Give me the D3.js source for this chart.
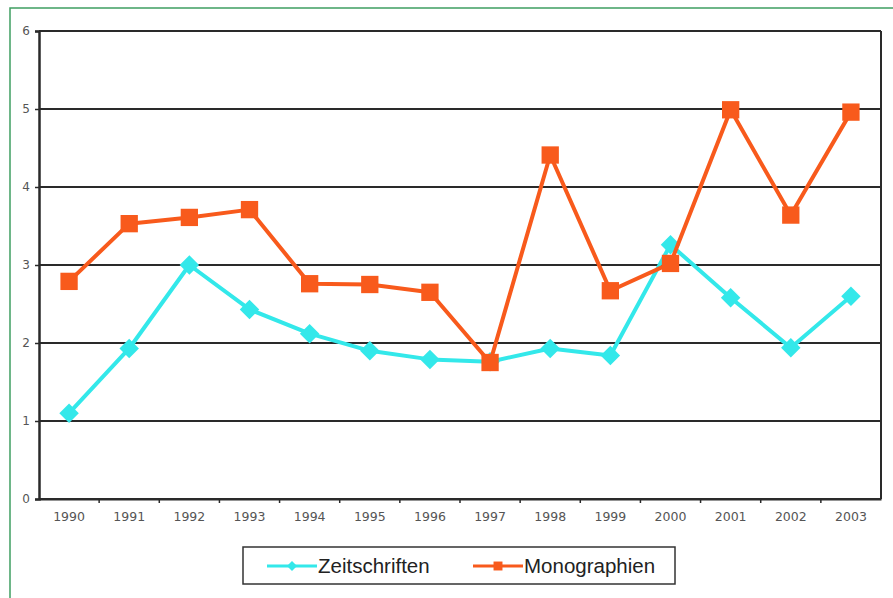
<!DOCTYPE html>
<html>
<head>
<meta charset="utf-8">
<script src="https://cdn.jsdelivr.net/npm/d3@7"></script>
<style>
  body { margin: 0; background: #fff; }
  svg { display: block; font-family: "Liberation Sans", Arial, sans-serif; }
</style>
</head>
<body>
<svg id="chart" width="893" height="598"></svg>
<script>
const years = ["1990", "1991", "1992", "1993", "1994", "1995", "1996", "1997", "1998", "1999", "2000", "2001", "2002", "2003"];
const zeitschriften = [1.1, 1.93, 3.0, 2.43, 2.12, 1.9, 1.79, 1.76, 1.93, 1.84, 3.26, 2.58, 1.94, 2.6];
const monographien = [2.79, 3.53, 3.61, 3.71, 2.76, 2.75, 2.65, 1.75, 4.41, 2.67, 3.02, 4.99, 3.64, 4.96];
const yTicks = [0, 1, 2, 3, 4, 5, 6];

const series = [
  { name: "Zeitschriften", values: zeitschriften, color: "#33e8ea", marker: "diamond" },
  { name: "Monographien", values: monographien, color: "#f85a1c", marker: "square" }
];

const svg = d3.select("#chart");
const margin = { top: 31, right: 12, bottom: 99, left: 39 };
const width = 893, height = 598;

// green frame around the picture
svg.append("rect")
  .attr("x", 10).attr("y", 8)
  .attr("width", 900).attr("height", 620)
  .attr("fill", "none")
  .attr("stroke", "#3f9e62")
  .attr("stroke-width", 1.5);

const x = d3.scaleBand()
  .domain(years)
  .range([margin.left, width - margin.right])
  .padding(0);

const y = d3.scaleLinear()
  .domain([0, 6])
  .range([height - margin.bottom, margin.top]);

// grid lines
svg.append("g")
  .selectAll("line")
  .data(yTicks)
  .join("line")
  .attr("x1", margin.left).attr("x2", width - margin.right)
  .attr("y1", d => y(d)).attr("y2", d => y(d))
  .attr("stroke", "#2a2a2a")
  .attr("stroke-width", 2);

// right border
svg.append("line")
  .attr("x1", width - margin.right).attr("x2", width - margin.right)
  .attr("y1", y(6)).attr("y2", y(0))
  .attr("stroke", "#2a2a2a").attr("stroke-width", 2);

const tickFont = "DejaVu Sans";

// y axis
const yAxis = svg.append("g")
  .attr("transform", `translate(${margin.left},0)`)
  .call(d3.axisLeft(y).tickValues(yTicks).tickFormat(d3.format("d")).tickSize(4).tickPadding(5));
yAxis.select(".domain").attr("stroke", "#2a2a2a").attr("stroke-width", 2.5);
yAxis.selectAll(".tick line").attr("stroke", "#2a2a2a").attr("stroke-width", 1.5);
yAxis.selectAll("text").attr("font-family", tickFont).attr("font-size", 12).attr("fill", "#555");

// x axis, ticks at category boundaries
const xAxis = svg.append("g")
  .attr("transform", `translate(0,${y(0)})`)
  .call(d3.axisBottom(x).tickSize(0).tickPadding(13));
xAxis.select(".domain").attr("stroke", "#2a2a2a").attr("stroke-width", 2);
xAxis.selectAll("text").attr("font-family", tickFont).attr("font-size", 12.5).attr("fill", "#555");
xAxis.selectAll(".sep")
  .data(years.slice(1))
  .join("line")
  .attr("class", "sep")
  .attr("x1", d => x(d)).attr("x2", d => x(d))
  .attr("y1", 0).attr("y2", 4)
  .attr("stroke", "#2a2a2a").attr("stroke-width", 1.5);

const cx = i => x(years[i]) + x.bandwidth() / 2;

const line = d3.line()
  .x((d, i) => cx(i))
  .y(d => y(d));

// markers: square, and a square turned 45deg for the diamond
const markerPath = (m, size) => d3.symbol().type(d3.symbolSquare).size(size)();
const markerRot = m => m === "diamond" ? 45 : 0;
const markerSize = m => m === "square" ? 300 : 190;

series.forEach(s => {
  const g = svg.append("g");
  g.append("path")
    .datum(s.values)
    .attr("d", line)
    .attr("fill", "none")
    .attr("stroke", s.color)
    .attr("stroke-width", 4)
    .attr("stroke-linejoin", "round");
  g.selectAll("path.pt")
    .data(s.values)
    .join("path")
    .attr("class", "pt")
    .attr("transform", (d, i) => `translate(${cx(i)},${y(d)}) rotate(${markerRot(s.marker)})`)
    .attr("d", markerPath(s.marker, markerSize(s.marker)))
    .attr("fill", s.color);
});

// legend
const legend = svg.append("g");
legend.append("rect")
  .attr("x", 243).attr("y", 547)
  .attr("width", 432).attr("height", 37)
  .attr("fill", "#fff")
  .attr("stroke", "#333")
  .attr("stroke-width", 1.5);

const legendX = [267, 473];
series.forEach((s, i) => {
  const lg = legend.append("g").attr("transform", `translate(${legendX[i]},566)`);
  lg.append("line")
    .attr("x1", 0).attr("x2", 50)
    .attr("stroke", s.color).attr("stroke-width", 3);
  lg.append("path")
    .attr("transform", `translate(25,0) rotate(${markerRot(s.marker)})`)
    .attr("d", markerPath(s.marker, s.marker === "square" ? 80 : 50))
    .attr("fill", s.color);
  lg.append("text")
    .attr("x", 51).attr("y", 7)
    .attr("font-size", 20.5)
    .attr("fill", "#222")
    .text(s.name);
});
</script>
</body>
</html>
